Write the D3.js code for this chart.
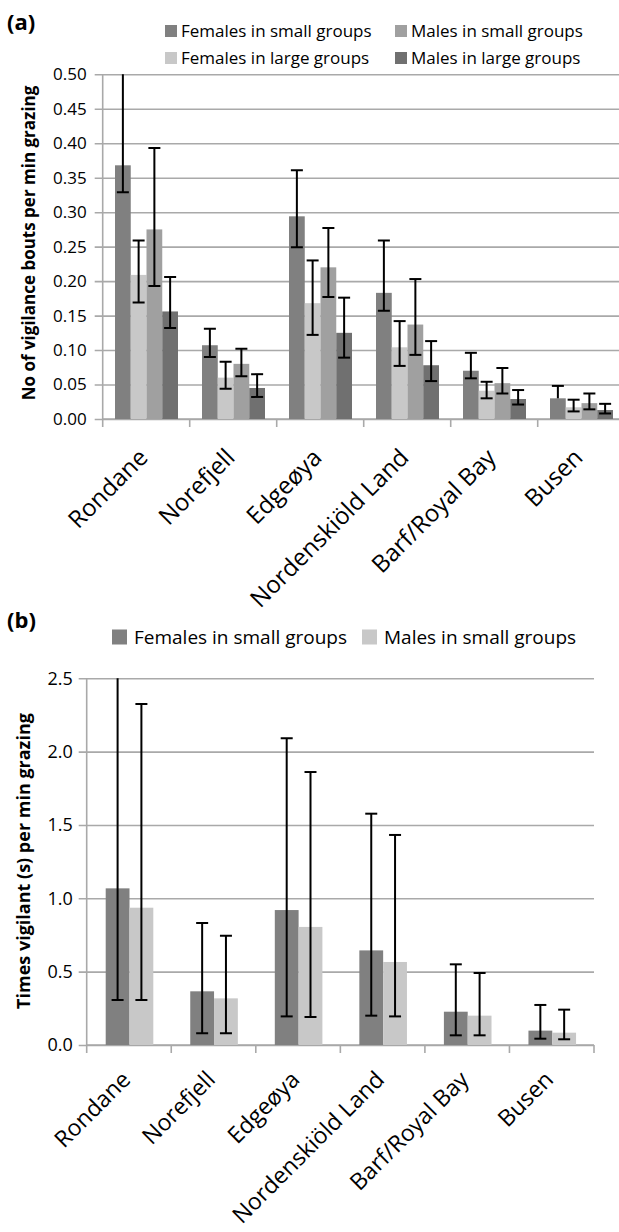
<!DOCTYPE html>
<html>
<head>
<meta charset="utf-8">
<script src="https://cdn.jsdelivr.net/npm/d3@7"></script>
<style>
  body { margin: 0; background: #fff; }
  text { font-family: "Open Sans", sans-serif; fill: #000; }
</style>
</head>
<body>
<div id="chart"></div>
<script>
// sites (same for both panels)
const sites = ['Rondane', 'Norefjell', 'Edgeøya', 'Nordenskiöld Land', 'Barf/Royal Bay', 'Busen'];

// panel (a): vigilance bouts per min grazing
const seriesA = ['Females in small groups', 'Females in large groups', 'Males in small groups', 'Males in large groups'];
const fSmallA   = [0.368, 0.107, 0.294, 0.183, 0.070, 0.030];
const fSmallALo = [0.329, 0.090, 0.249, 0.157, 0.059, 0.030];
const fSmallAHi = [0.560, 0.131, 0.361, 0.259, 0.096, 0.048];
const fLargeA   = [0.209, 0.060, 0.168, 0.104, 0.041, 0.017];
const fLargeALo = [0.169, 0.044, 0.122, 0.077, 0.030, 0.011];
const fLargeAHi = [0.259, 0.083, 0.230, 0.142, 0.054, 0.028];
const mSmallA   = [0.275, 0.080, 0.220, 0.137, 0.052, 0.023];
const mSmallALo = [0.193, 0.062, 0.177, 0.093, 0.037, 0.014];
const mSmallAHi = [0.393, 0.102, 0.277, 0.203, 0.074, 0.037];
const mLargeA   = [0.156, 0.045, 0.125, 0.078, 0.029, 0.013];
const mLargeALo = [0.132, 0.032, 0.089, 0.055, 0.021, 0.008];
const mLargeAHi = [0.206, 0.065, 0.176, 0.113, 0.042, 0.022];
const ticksA = [0, 0.05, 0.10, 0.15, 0.20, 0.25, 0.30, 0.35, 0.40, 0.45, 0.50];

// panel (b): time vigilant per min grazing
const seriesB = ['Females in small groups', 'Males in small groups'];
const fSmallB   = [1.068, 0.366, 0.920, 0.645, 0.227, 0.098];
const fSmallBLo = [0.307, 0.080, 0.195, 0.200, 0.066, 0.043];
const fSmallBHi = [2.900, 0.832, 2.091, 1.577, 0.550, 0.273];
const mSmallB   = [0.936, 0.318, 0.805, 0.566, 0.200, 0.084];
const mSmallBLo = [0.307, 0.080, 0.191, 0.195, 0.066, 0.039];
const mSmallBHi = [2.325, 0.745, 1.861, 1.432, 0.491, 0.241];
const ticksB = [0, 0.5, 1.0, 1.5, 2.0, 2.5];

const svg = d3.select('#chart')
    .append('svg')
    .attr('width', 619)
    .attr('height', 1232);

function drawPanel(opts) {
    const g = svg.append('g');

    // build rows: one per site and series
    const rows = [];
    opts.series.forEach((s, i) => {
        sites.forEach((site, j) => {
            rows.push({ site: site, series: s, value: opts.values[i][j], lo: opts.lo[i][j], hi: opts.hi[i][j] });
        });
    });

    const x0 = d3.scaleBand()
        .domain(sites)
        .range([opts.left, opts.left + opts.band * sites.length]);

    const x1 = d3.scaleBand()
        .domain(opts.series)
        .range(opts.groupRange);

    const y = d3.scaleLinear()
        .domain([0, d3.max(opts.ticks)])
        .range([opts.bottom, opts.top]);

    const color = d3.scaleOrdinal()
        .domain(opts.series)
        .range(opts.colors);

    // gridlines + y axis
    g.append('g')
        .attr('transform', 'translate(' + opts.left + ',0)')
        .call(d3.axisLeft(y)
            .tickValues(opts.ticks)
            .tickFormat(d3.format(opts.fmt))
            .tickSize(-(opts.gridRight - opts.left))
            .tickPadding(opts.tickPad))
        .call(ax => ax.select('.domain').remove())
        .call(ax => ax.selectAll('.tick line')
            .attr('x1', -8)
            .attr('stroke', '#a9a9a9')
            .attr('stroke-width', 1.6))
        .call(ax => ax.selectAll('.tick text')
            .style('font-size', opts.tickSize)
            .attr('fill', '#111'));

    g.append('line')
        .attr('x1', opts.left).attr('x2', opts.left)
        .attr('y1', opts.top).attr('y2', opts.bottom + 8)
        .attr('stroke', '#a9a9a9')
        .attr('stroke-width', 1.6);

    // x axis with ticks between groups
    g.append('line')
        .attr('x1', opts.left).attr('x2', opts.gridRight)
        .attr('y1', opts.bottom).attr('y2', opts.bottom)
        .attr('stroke', '#a9a9a9')
        .attr('stroke-width', 1.6);

    g.selectAll('.xtick')
        .data(sites)
        .join('line')
        .attr('class', 'xtick')
        .attr('x1', d => x0(d) + x0.bandwidth())
        .attr('x2', d => x0(d) + x0.bandwidth())
        .attr('y1', opts.bottom)
        .attr('y2', opts.bottom + 8)
        .attr('stroke', '#a9a9a9')
        .attr('stroke-width', 1.6);

    g.selectAll('.xlabel')
        .data(sites)
        .join('text')
        .attr('class', 'xlabel')
        .attr('text-anchor', 'end')
        .attr('transform', d => 'translate(' + (x0(d) + x0.bandwidth() / 2 + 3) + ',' + (opts.bottom + opts.labelDrop) + ') rotate(-45)')
        .style('font-size', opts.labelSize)
        .text(d => d);

    // bars
    g.selectAll('.bar')
        .data(rows)
        .join('rect')
        .attr('class', 'bar')
        .attr('x', d => x0(d.site) + x1(d.series))
        .attr('width', x1.bandwidth())
        .attr('y', d => y(d.value))
        .attr('height', d => opts.bottom - y(d.value))
        .attr('fill', d => color(d.series));

    // error bars, clipped to the plot area
    const clipId = 'clip' + opts.id;
    svg.append('clipPath')
        .attr('id', clipId)
        .append('rect')
        .attr('x', opts.left)
        .attr('y', opts.top)
        .attr('width', opts.gridRight - opts.left)
        .attr('height', opts.bottom - opts.top);

    const err = g.append('g').attr('clip-path', 'url(#' + clipId + ')');
    const cx = d => x0(d.site) + x1(d.series) + x1.bandwidth() / 2;

    err.selectAll('.whisker')
        .data(rows)
        .join('line')
        .attr('x1', cx).attr('x2', cx)
        .attr('y1', d => y(d.lo))
        .attr('y2', d => y(d.hi))
        .attr('stroke', '#000')
        .attr('stroke-width', 2);

    err.selectAll('.capHi')
        .data(rows)
        .join('line')
        .attr('x1', d => cx(d) - opts.cap).attr('x2', d => cx(d) + opts.cap)
        .attr('y1', d => y(d.hi)).attr('y2', d => y(d.hi))
        .attr('stroke', '#000')
        .attr('stroke-width', 2);

    err.selectAll('.capLo')
        .data(rows.filter(d => d.lo < d.value))
        .join('line')
        .attr('x1', d => cx(d) - opts.cap).attr('x2', d => cx(d) + opts.cap)
        .attr('y1', d => y(d.lo)).attr('y2', d => y(d.lo))
        .attr('stroke', '#000')
        .attr('stroke-width', 2);

    // y title
    g.append('text')
        .attr('transform', 'rotate(-90)')
        .attr('x', -opts.titleY)
        .attr('y', opts.titleX)
        .attr('text-anchor', 'middle')
        .style('font-size', opts.titleSize)
        .style('font-weight', 'bold')
        .text(opts.yTitle);

    // panel letter
    g.append('text')
        .attr('x', 7)
        .attr('y', opts.letterY)
        .style('font-size', '22px')
        .style('font-weight', 'bold')
        .text(opts.letter);

    // legend
    const leg = g.selectAll('.leg')
        .data(opts.series)
        .join('g')
        .attr('transform', (d, i) => 'translate(' + opts.legend[i][0] + ',' + opts.legend[i][1] + ')');

    leg.append('rect')
        .attr('width', opts.sw)
        .attr('height', opts.sw)
        .attr('y', -opts.sw / 2)
        .attr('fill', d => color(d));

    leg.append('text')
        .attr('x', opts.sw + opts.swGap)
        .attr('dy', '0.35em')
        .style('font-size', opts.legendSize)
        .text(d => d);
}

drawPanel({
    id: 'a',
    letter: '(a)',
    letterY: 30,
    series: seriesA,
    values: [fSmallA, fLargeA, mSmallA, mLargeA],
    lo: [fSmallALo, fLargeALo, mSmallALo, mLargeALo],
    hi: [fSmallAHi, fLargeAHi, mSmallAHi, mLargeAHi],
    colors: ['#808080', '#c8c8c8', '#a0a0a0', '#707070'],
    ticks: ticksA,
    fmt: '.2f',
    tickSize: '17px',
    tickPad: 16,
    left: 102.7,
    band: 87,
    gridRight: 619,
    groupRange: [12.3, 75.3],
    top: 74.3,
    bottom: 419,
    cap: 6,
    labelSize: '24px',
    labelDrop: 40,
    titleX: 35,
    titleY: 243,
    titleSize: '17px',
    yTitle: 'No of vigilance bouts per min grazing',
    legend: [[165, 31], [165, 58], [395, 31], [395, 58]],
    sw: 12,
    swGap: 4,
    legendSize: '17px'
});

drawPanel({
    id: 'b',
    letter: '(b)',
    letterY: 628,
    series: seriesB,
    values: [fSmallB, mSmallB],
    lo: [fSmallBLo, mSmallBLo],
    hi: [fSmallBHi, mSmallBHi],
    colors: ['#808080', '#c8c8c8'],
    ticks: ticksB,
    fmt: '.1f',
    tickSize: '18px',
    tickPad: 14,
    left: 86.7,
    band: 84.55,
    gridRight: 594,
    groupRange: [19, 66.6],
    top: 678.3,
    bottom: 1045,
    cap: 6,
    labelSize: '23px',
    labelDrop: 36,
    titleX: 30,
    titleY: 861,
    titleSize: '18px',
    yTitle: 'Times vigilant (s) per min grazing',
    legend: [[112, 637], [362, 637]],
    sw: 15,
    swGap: 7,
    legendSize: '19px'
});
</script>
</body>
</html>
